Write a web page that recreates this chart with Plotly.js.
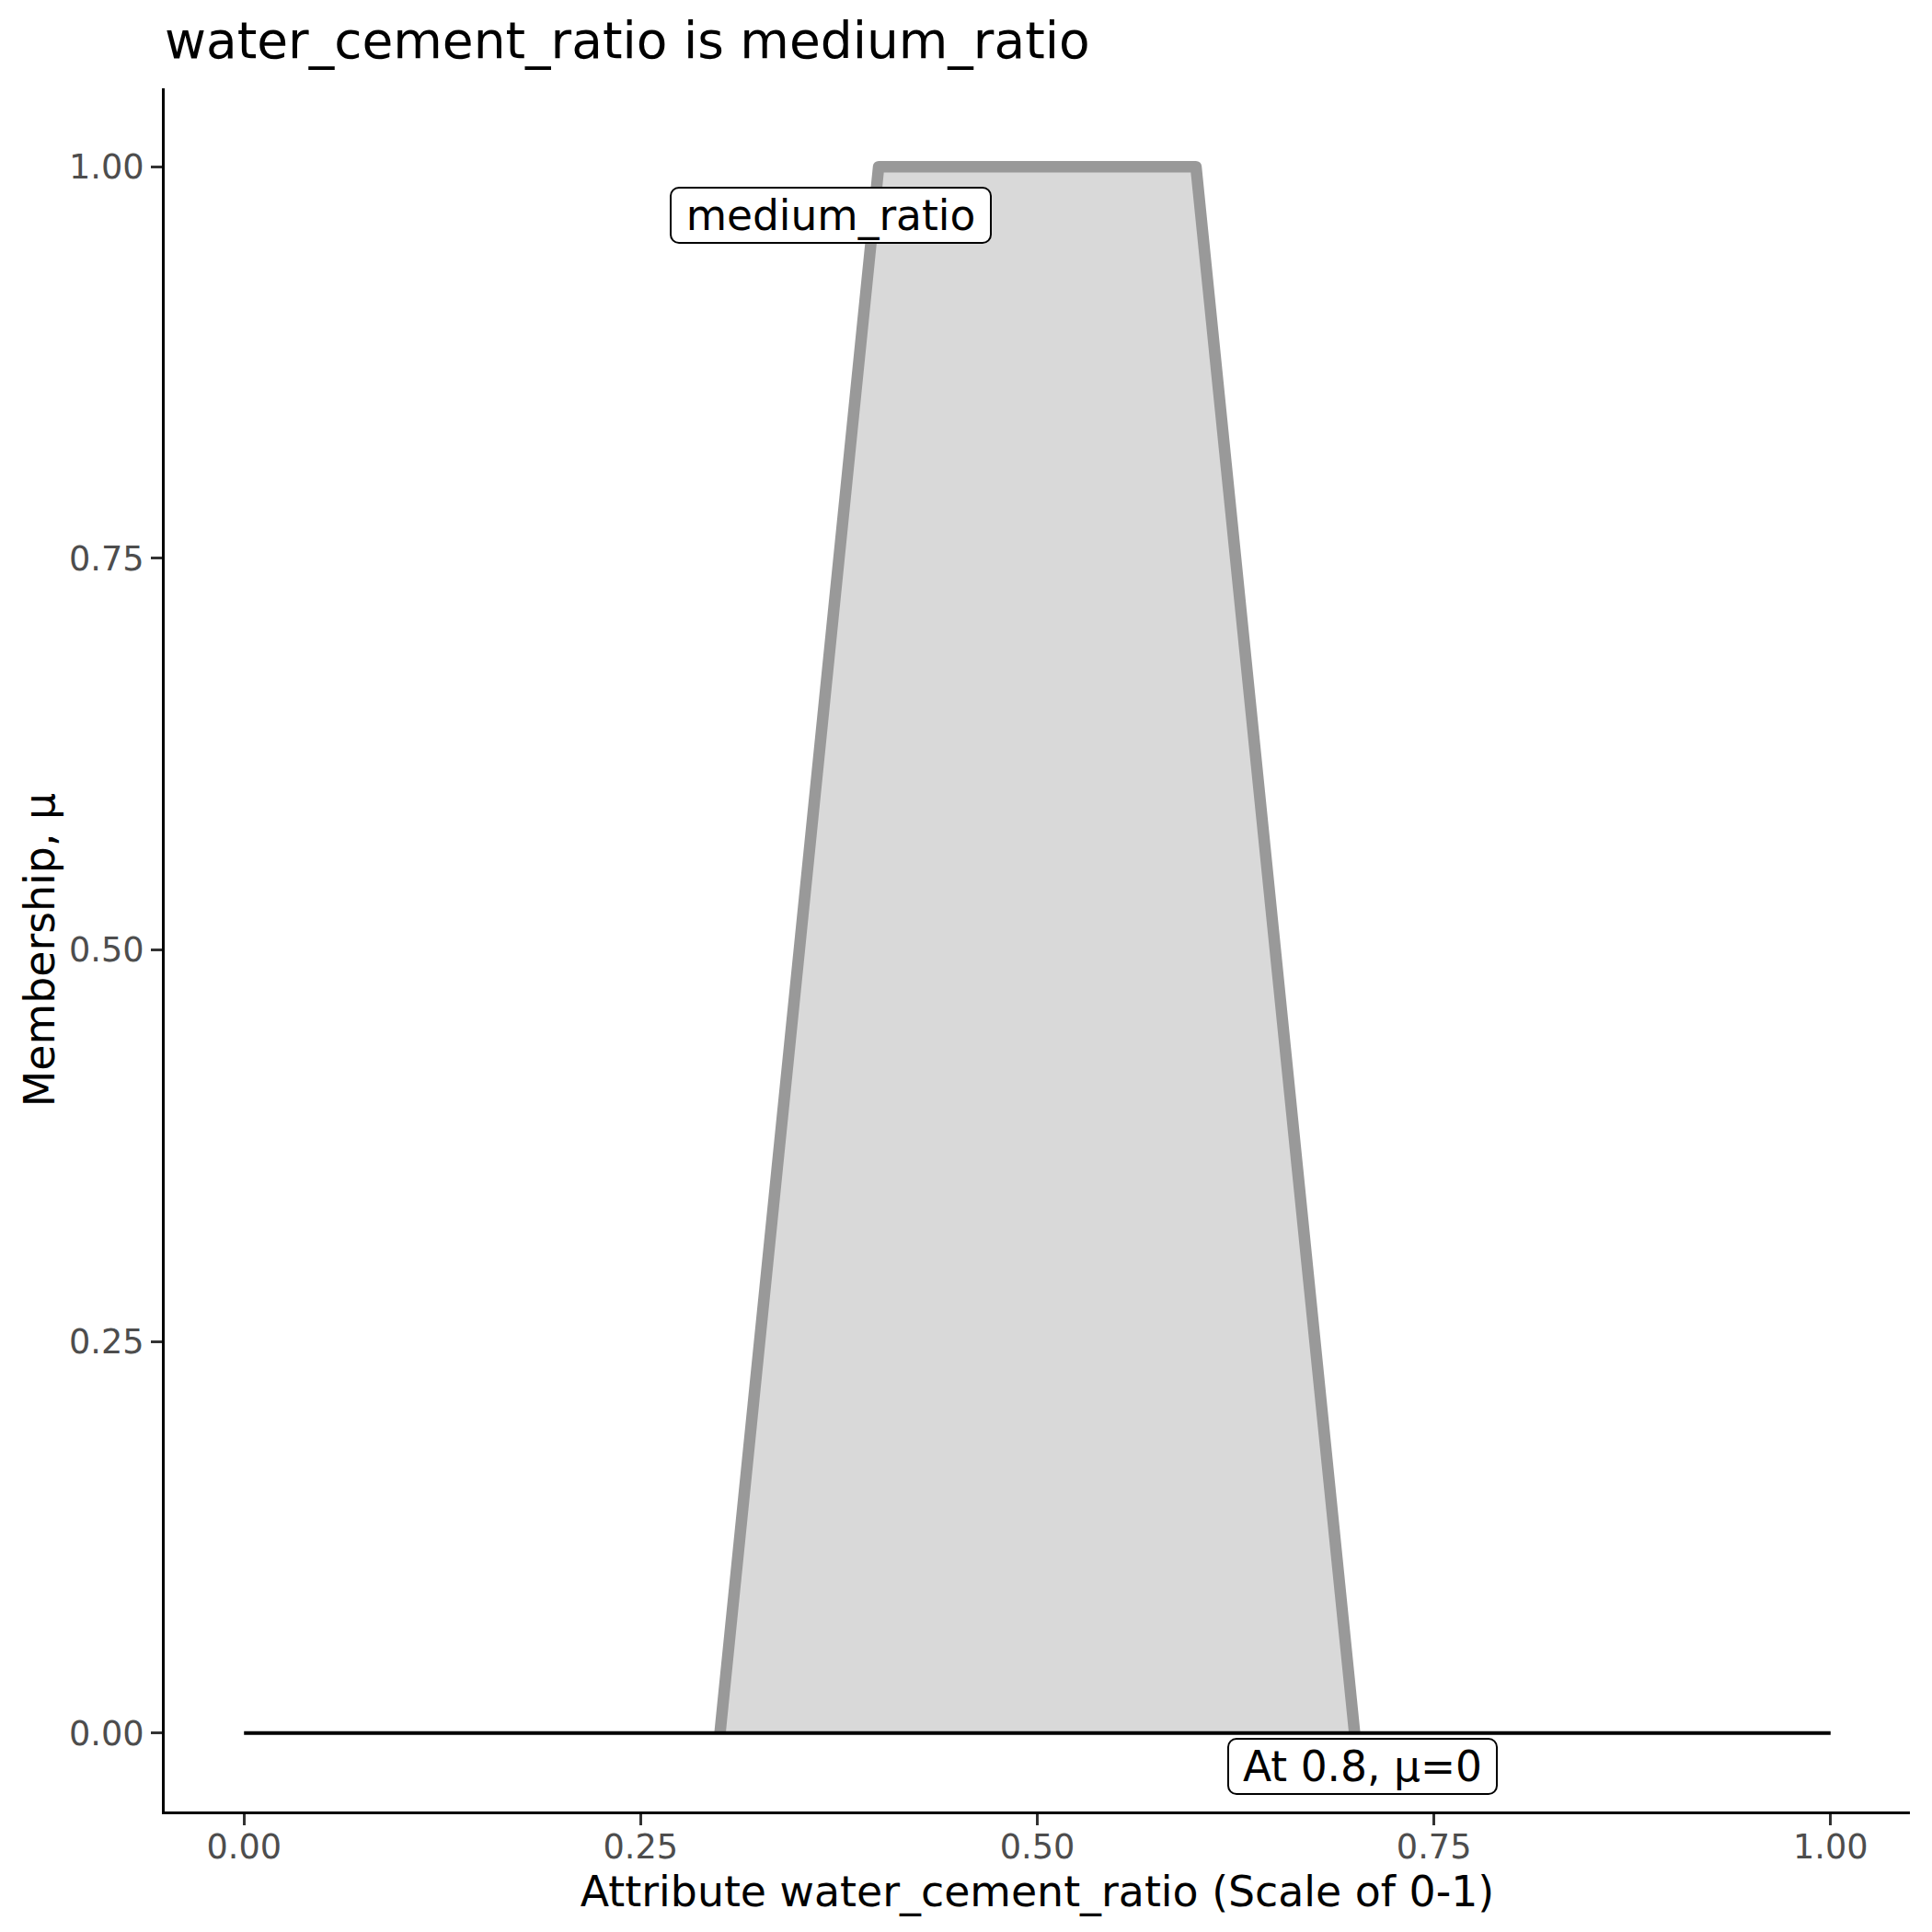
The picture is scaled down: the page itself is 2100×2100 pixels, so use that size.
<!DOCTYPE html>
<html>
<head>
<meta charset="utf-8">
<script src="https://cdn.plot.ly/plotly-3.0.1.min.js"></script>
<style>
html,body{margin:0;padding:0;background:#fff;}
#chart{width:2100px;height:2100px;}
#chart .scatterlayer path.js-line{stroke-linejoin:round;}
#chart .annotation-text-g rect.bg{rx:9px;ry:9px;}
</style>
</head>
<body>
<div id="chart"></div>
<script>
// Membership function (trapezoid) for water_cement_ratio = medium_ratio
const membershipX = [0.3, 0.4, 0.6, 0.7];
const membershipY = [0, 1, 1, 0];
// Reference line at mu = 0 across the attribute range
const baselineX = [0, 1];
const baselineY = [0, 0];
// Tick values / labels
const tickVals = [0, 0.25, 0.5, 0.75, 1];
const tickText = ["0.00", "0.25", "0.50", "0.75", "1.00"];
// Text labels
const chartTitle = "water_cement_ratio is medium_ratio";
const xTitle = "Attribute water_cement_ratio (Scale of 0-1)";
const yTitle = "Membership, μ";
const setLabel = "medium_ratio";
const pointLabel = "At 0.8, μ=0";

const FONT = "DejaVu Sans, Verdana, sans-serif";

const traces = [
  {
    x: membershipX, y: membershipY, type: "scatter", mode: "lines",
    fill: "tozeroy", fillcolor: "#d9d9d9",
    line: {color: "#999999", width: 12.5}, hoverinfo: "skip", showlegend: false
  },
  {
    x: baselineX, y: baselineY, type: "scatter", mode: "lines",
    line: {color: "#000000", width: 4}, hoverinfo: "skip", showlegend: false
  }
];

const axisCommon = {
  showgrid: false, zeroline: false, showline: true, linecolor: "#000000", linewidth: 3,
  ticks: "outside", ticklen: 12, tickwidth: 3, tickcolor: "#333333",
  tickfont: {family: FONT, size: 36.7, color: "#4d4d4d"},
  tickvals: tickVals, ticktext: tickText, automargin: false, fixedrange: true
};

const layout = {
  width: 2100, height: 2100,
  paper_bgcolor: "#ffffff", plot_bgcolor: "#ffffff",
  margin: {l: 179, r: 24, t: 96, b: 131, pad: 0},
  font: {family: FONT, color: "#000000"},
  title: {
    text: chartTitle, font: {family: FONT, size: 55, color: "#000000"},
    x: 0, xref: "paper", xanchor: "left",
    y: 0.9698, yref: "container", yanchor: "bottom"
  },
  xaxis: Object.assign({}, axisCommon, {
    range: [-0.05, 1.05],
    ticklabelstandoff: -8,
    title: {text: xTitle, font: {family: FONT, size: 45.8, color: "#000000"}, standoff: 6}
  }),
  yaxis: Object.assign({}, axisCommon, {
    range: [-0.05, 1.05],
    title: {text: yTitle, font: {family: FONT, size: 45.8, color: "#000000"}, standoff: 1}
  }),
  annotations: [
    {
      x: 0.37, y: 0.969, xref: "x", yref: "y", text: setLabel, showarrow: false,
      xanchor: "center", yanchor: "middle",
      font: {family: FONT, size: 45.5, color: "#000000"},
      bgcolor: "#ffffff", bordercolor: "#000000", borderwidth: 2, borderpad: 0,
      width: 346, height: 58
    },
    {
      x: 0.705, y: -0.0215, xref: "x", yref: "y", text: pointLabel, showarrow: false,
      xanchor: "center", yanchor: "middle",
      font: {family: FONT, size: 45.5, color: "#000000"},
      bgcolor: "#ffffff", bordercolor: "#000000", borderwidth: 2, borderpad: 0,
      width: 290, height: 58
    }
  ]
};

Plotly.newPlot("chart", traces, layout, {staticPlot: true, displayModeBar: false});
</script>
</body>
</html>
